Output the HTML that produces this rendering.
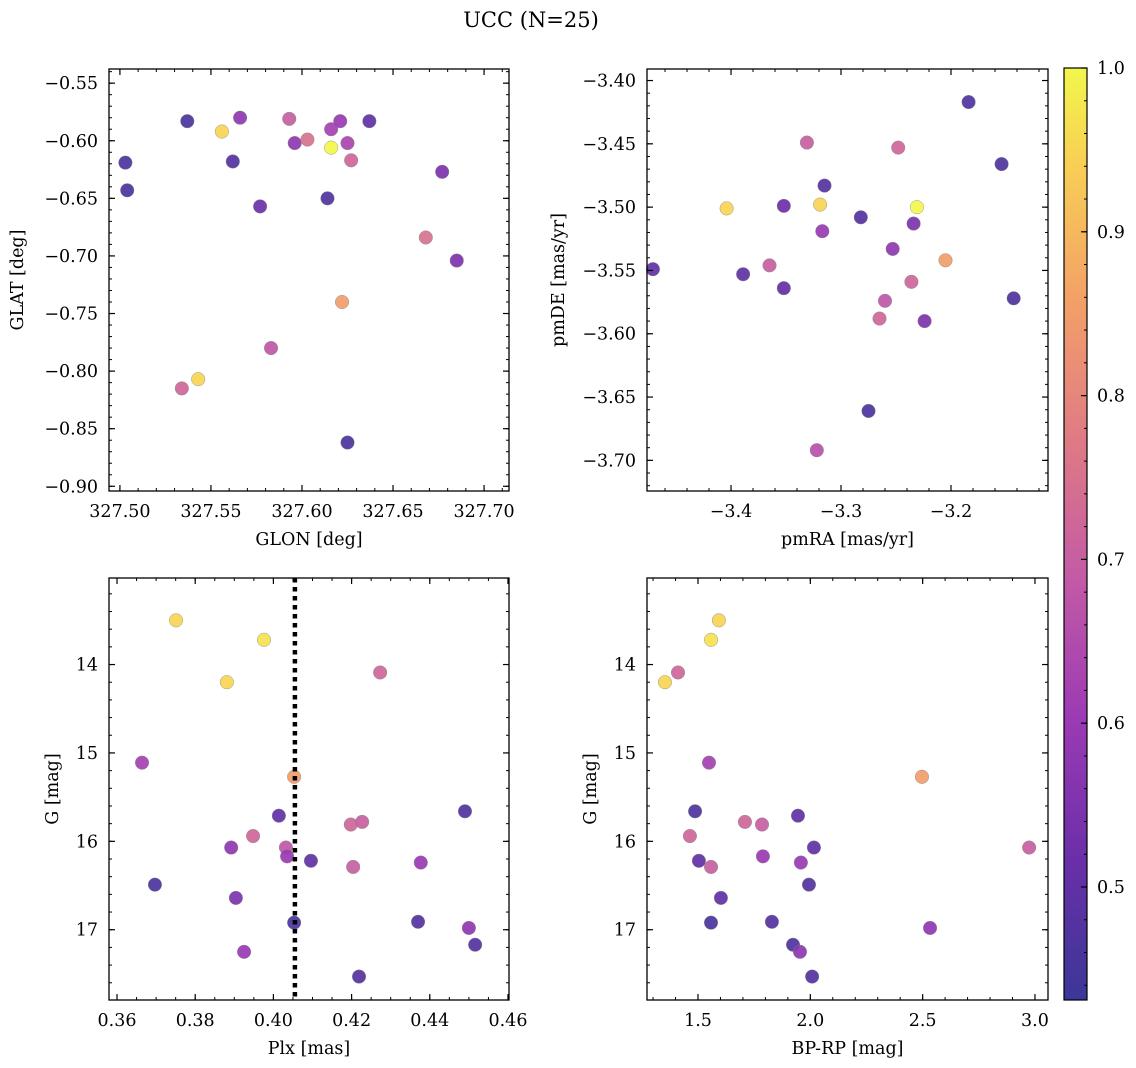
<!DOCTYPE html>
<html><head><meta charset="utf-8">
<style>
body{margin:0;background:#fff;}
svg{display:block;font-family:"DejaVu Serif","Liberation Serif",serif;}
</style></head>
<body>
<svg id="fig" width="1136" height="1068" viewBox="0 0 1136 1068" xmlns="http://www.w3.org/2000/svg">
<text x="531" y="27" font-size="21" text-anchor="middle">UCC (N=25)</text>
<defs>
<linearGradient id="plasma" x1="0" y1="1" x2="0" y2="0">
<stop offset="0" stop-color="#3b3797"/><stop offset="0.15" stop-color="#6a2fa8"/><stop offset="0.3" stop-color="#9b3ab4"/><stop offset="0.45" stop-color="#c25aa6"/><stop offset="0.6" stop-color="#df7a85"/><stop offset="0.75" stop-color="#f3a068"/><stop offset="0.9" stop-color="#f8d054"/><stop offset="1" stop-color="#f2f74c"/>
</linearGradient>
</defs>
</svg>
<script>
// Panel 1 data
const glon=[327.503,327.504,327.537,327.556,327.566,327.562,327.577,327.593,327.596,327.603,327.614,327.616,327.616,327.621,327.625,327.627,327.637,327.668,327.677,327.685,327.622,327.583,327.543,327.534,327.625];
const glat=[-0.619,-0.643,-0.583,-0.592,-0.580,-0.618,-0.657,-0.581,-0.602,-0.599,-0.650,-0.606,-0.590,-0.583,-0.602,-0.617,-0.583,-0.684,-0.627,-0.704,-0.740,-0.780,-0.807,-0.815,-0.862];
const prob1=[0.46,0.46,0.46,0.95,0.58,0.48,0.52,0.70,0.58,0.75,0.47,1.0,0.62,0.60,0.63,0.72,0.50,0.75,0.55,0.55,0.85,0.68,0.95,0.72,0.46];
// Panel 2 data
const pmra=[-3.184,-3.154,-3.331,-3.248,-3.315,-3.404,-3.352,-3.319,-3.231,-3.282,-3.234,-3.317,-3.253,-3.471,-3.389,-3.365,-3.205,-3.236,-3.260,-3.265,-3.224,-3.143,-3.352,-3.275,-3.322];
const pmde=[-3.417,-3.466,-3.449,-3.453,-3.483,-3.501,-3.499,-3.498,-3.500,-3.508,-3.513,-3.519,-3.533,-3.549,-3.553,-3.546,-3.542,-3.559,-3.574,-3.588,-3.590,-3.572,-3.564,-3.661,-3.692];
const prob2=[0.47,0.47,0.70,0.72,0.48,0.95,0.52,0.95,1.0,0.48,0.55,0.60,0.58,0.50,0.50,0.70,0.85,0.72,0.68,0.72,0.55,0.47,0.50,0.46,0.66];
// Panel 3 data
const plx=[0.3751,0.3976,0.3881,0.4273,0.3664,0.4053,0.4490,0.4014,0.3948,0.4198,0.4227,0.3892,0.4032,0.4035,0.4096,0.4204,0.4377,0.3697,0.3904,0.4053,0.4370,0.4500,0.4516,0.3925,0.4219];
const g3=[13.50,13.72,14.20,14.09,15.11,15.27,15.66,15.71,15.94,15.81,15.78,16.07,16.07,16.17,16.22,16.29,16.24,16.49,16.64,16.92,16.91,16.98,17.17,17.25,17.53];
const prob3=[0.95,0.97,0.95,0.72,0.62,0.85,0.47,0.50,0.72,0.72,0.70,0.58,0.68,0.60,0.50,0.70,0.60,0.46,0.55,0.46,0.48,0.58,0.48,0.60,0.48];
const plxLine=0.4055;
// Panel 4 data
const bprp=[1.593,1.558,1.353,1.411,1.549,2.497,1.487,1.945,1.464,1.709,1.785,2.974,2.016,1.789,1.504,1.958,1.558,1.994,1.602,1.558,1.829,2.533,1.923,1.954,2.008];
const g4=[13.50,13.72,14.20,14.09,15.11,15.27,15.66,15.71,15.94,15.78,15.81,16.07,16.07,16.17,16.22,16.24,16.29,16.49,16.64,16.92,16.91,16.98,17.17,17.25,17.53];
const prob4=[0.95,0.97,0.95,0.72,0.62,0.85,0.47,0.50,0.72,0.72,0.70,0.70,0.50,0.60,0.50,0.60,0.70,0.48,0.50,0.46,0.48,0.58,0.47,0.58,0.48];
// Tick labels
const ticks1x=[327.50,327.55,327.60,327.65,327.70];
const ticks1y=[-0.55,-0.60,-0.65,-0.70,-0.75,-0.80,-0.85,-0.90];
const ticks2x=[-3.4,-3.3,-3.2];
const ticks2y=[-3.40,-3.45,-3.50,-3.55,-3.60,-3.65,-3.70];
const ticks3x=[0.36,0.38,0.40,0.42,0.44,0.46];
const ticksG=[14,15,16,17];
const ticks4x=[1.5,2.0,2.5,3.0];
const ticksCb=[0.5,0.6,0.7,0.8,0.9,1.0];

const NS='http://www.w3.org/2000/svg';
const svg=document.getElementById('fig');
function el(tag,attrs,parent){const e=document.createElementNS(NS,tag);for(const k in attrs)e.setAttribute(k,attrs[k]);(parent||svg).appendChild(e);return e;}
const stops=[[0,[59,55,151]],[0.15,[106,47,168]],[0.3,[155,58,180]],[0.45,[194,90,166]],[0.6,[223,122,133]],[0.75,[243,160,104]],[0.9,[248,208,84]],[1,[242,247,76]]];
const cmin=0.431,cmax=1.0;
function cmap(v){let t=(v-cmin)/(cmax-cmin);t=Math.max(0,Math.min(1,t));for(let i=1;i<stops.length;i++){if(t<=stops[i][0]){const a=stops[i-1],b=stops[i];const f=(t-a[0])/(b[0]-a[0]);const c=a[1].map((x,j)=>Math.round(x+(b[1][j]-x)*f));return `rgb(${c[0]},${c[1]},${c[2]})`;}}return 'rgb(242,247,76)';}
function fmt(v,d){const s=Math.abs(v).toFixed(d);return (v<0?'\u2212':'')+s;}
const FS=17.5;

function panel(name,box,xd,yd,xt,yt,xdec,ydec,xminor,yminor,xlabel,ylabel,ylabOff,xs,ys,cs,extra){
  const [L,T,R,B]=box;
  const g=el('g',{});
  
  
  const sx=v=>L+(v-xd[0])/(xd[1]-xd[0])*(R-L);
  const sy=v=>T+(v-yd[0])/(yd[1]-yd[0])*(B-T);
  const pts=el('g',{},g);
  
  
  for(let i=0;i<xs.length;i++){
    const c=el('circle',{cx:sx(xs[i]),cy:sy(ys[i]),r:6.8,fill:cmap(cs[i]),'fill-opacity':0.92,stroke:'#888','stroke-width':0.4},pts);
    
    
  }
  if(extra)extra(g,sx,sy);
  const fr=el('rect',{x:L,y:T,width:R-L,height:B-T,fill:'none',stroke:'#000','stroke-width':1.3},g);
  
  
  const xlo=Math.min(xd[0],xd[1]),xhi=Math.max(xd[0],xd[1]);
  for(let v=Math.ceil(xlo/xminor)*xminor;v<=xhi;v+=xminor){const x=sx(v);el('line',{x1:x,x2:x,y1:B,y2:B-3,stroke:'#000','stroke-width':1},g);el('line',{x1:x,x2:x,y1:T,y2:T+3,stroke:'#000','stroke-width':1},g);}
  const ylo=Math.min(yd[0],yd[1]),yhi=Math.max(yd[0],yd[1]);
  for(let v=Math.ceil(ylo/yminor-1e-6)*yminor;v<=yhi;v+=yminor){const y=sy(v);el('line',{x1:L,x2:L+3,y1:y,y2:y,stroke:'#000','stroke-width':1},g);el('line',{x1:R,x2:R-3,y1:y,y2:y,stroke:'#000','stroke-width':1},g);}
  xt.forEach(v=>{const x=sx(v);el('line',{x1:x,x2:x,y1:B,y2:B-6,stroke:'#000','stroke-width':1.2},g);el('line',{x1:x,x2:x,y1:T,y2:T+6,stroke:'#000','stroke-width':1.2},g);
    const t=el('text',{x:x,y:B+26,'font-size':FS,'text-anchor':'middle'},g);t.textContent=fmt(v,xdec);
    
    });
  yt.forEach(v=>{const y=sy(v);el('line',{x1:L,x2:L+6,y1:y,y2:y,stroke:'#000','stroke-width':1.2},g);el('line',{x1:R,x2:R-6,y1:y,y2:y,stroke:'#000','stroke-width':1.2},g);
    const t=el('text',{x:L-11,y:y+6,'font-size':FS,'text-anchor':'end'},g);t.textContent=fmt(v,ydec);
    
    });
  const xl=el('text',{x:(L+R)/2,y:B+54,'font-size':FS,'text-anchor':'middle'},g);xl.textContent=xlabel;
  
  
  const yx=L-ylabOff;
  const yl=el('text',{x:yx,y:(T+B)/2,'font-size':FS,'text-anchor':'middle',transform:`rotate(-90 ${yx} ${(T+B)/2})`},g);yl.textContent=ylabel;
  
  
}

panel('glon-glat-panel',[109,69,509,491],[327.494,327.7137],[-0.5377,-0.9041],ticks1x,ticks1y,2,2,0.01,0.01,'GLON [deg]','GLAT [deg]',86,glon,glat,prob1);
panel('pm-panel',[647,69,1048,491],[-3.4764,-3.1118],[-3.3909,-3.7242],ticks2x,ticks2y,1,2,0.02,0.01,'pmRA [mas/yr]','pmDE [mas/yr]',83,pmra,pmde,prob2);
panel('plx-g-panel',[109,578,509,1000],[0.35795,0.46026],[13.021,17.795],ticks3x,ticksG,2,0,0.005,0.2,'Plx [mas]','G [mag]',51,plx,g3,prob3,(g,sx,sy)=>{
  const x=sx(plxLine);
  const ln=el('line',{x1:x,x2:x,y1:578,y2:1000,stroke:'#000','stroke-width':4.5,'stroke-dasharray':'4.5 4.5'},g);
  
  
});
panel('cmd-panel',[647,578,1048,1000],[1.273,3.058],[13.021,17.795],ticks4x,ticksG,1,0,0.1,0.2,'BP-RP [mag]','G [mag]',51,bprp,g4,prob4);

const cb=el('g',{});


const CT=68,CB=1000,CL=1064,CR=1087;
el('rect',{x:CL,y:CT,width:CR-CL,height:CB-CT,fill:'url(#plasma)',stroke:'#000','stroke-width':1.2},cb);
const cy=v=>CB-(v-cmin)/(cmax-cmin)*(CB-CT);
for(let v=0.44;v<=1.0001;v+=0.02){el('line',{x1:CR,x2:CR-3,y1:cy(v),y2:cy(v),stroke:'#000','stroke-width':1},cb);}
ticksCb.forEach(v=>{const y=cy(v);el('line',{x1:CR,x2:CR-6,y1:y,y2:y,stroke:'#000','stroke-width':1.2},cb);
  const t=el('text',{x:CR+10,y:y+6,'font-size':FS},cb);t.textContent=v.toFixed(1);
  
  });
</script>
</body></html>
